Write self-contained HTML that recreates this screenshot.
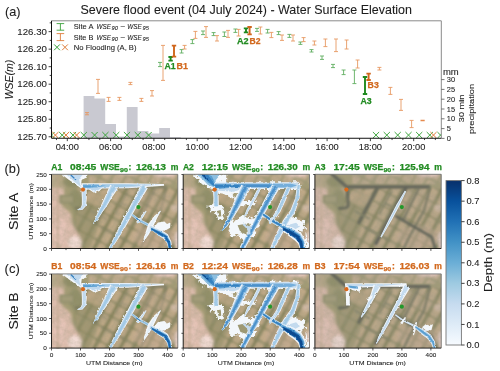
<!DOCTYPE html>
<html><head><meta charset="utf-8"><title>Severe flood event</title>
<style>html,body{margin:0;padding:0;background:#fff;}svg{display:block;}text{font-family:'Liberation Sans', sans-serif;}</style>
</head><body>
<svg width="500" height="371" viewBox="0 0 500 371" font-family="'Liberation Sans', sans-serif">
<filter id="np" x="0" y="0" width="500" height="371" filterUnits="userSpaceOnUse"><feOffset dx="0" dy="0"/></filter>
<g filter="url(#np)">
<rect x="0" y="0" width="500" height="371" fill="#fff"/>
<path d="M83.6 138.25V96H94.40V98.6H105.20V124H116.00V136.4H126.80V107H137.60V131H148.40V133.4H159.20V128H170.00V137.2H180.80V138.25Z" fill="#c9c9d1"/>
<clipPath id="cc"><rect x="51.5" y="20.8" width="389.8" height="117.95"/></clipPath>
<g clip-path="url(#cc)">
<path d="M48.40 132.00L54.60 138.20M48.40 138.20L54.60 132.00" stroke="#3fa53f" stroke-width="1.0" fill="none"/>
<path d="M59.10 132.00L65.30 138.20M59.10 138.20L65.30 132.00" stroke="#3fa53f" stroke-width="1.0" fill="none"/>
<path d="M69.90 132.00L76.10 138.20M69.90 138.20L76.10 132.00" stroke="#3fa53f" stroke-width="1.0" fill="none"/>
<path d="M80.70 132.00L86.90 138.20M80.70 138.20L86.90 132.00" stroke="#3fa53f" stroke-width="1.0" fill="none"/>
<path d="M91.50 132.00L97.70 138.20M91.50 138.20L97.70 132.00" stroke="#3fa53f" stroke-width="1.0" fill="none"/>
<path d="M102.30 132.00L108.50 138.20M102.30 138.20L108.50 132.00" stroke="#3fa53f" stroke-width="1.0" fill="none"/>
<path d="M113.10 132.00L119.30 138.20M113.10 138.20L119.30 132.00" stroke="#3fa53f" stroke-width="1.0" fill="none"/>
<path d="M123.90 132.00L130.10 138.20M123.90 138.20L130.10 132.00" stroke="#3fa53f" stroke-width="1.0" fill="none"/>
<path d="M134.70 132.00L140.90 138.20M134.70 138.20L140.90 132.00" stroke="#3fa53f" stroke-width="1.0" fill="none"/>
<path d="M145.50 132.00L151.70 138.20M145.50 138.20L151.70 132.00" stroke="#3fa53f" stroke-width="1.0" fill="none"/>
<path d="M372.90 132.00L379.10 138.20M372.90 138.20L379.10 132.00" stroke="#3fa53f" stroke-width="1.0" fill="none"/>
<path d="M383.70 132.00L389.90 138.20M383.70 138.20L389.90 132.00" stroke="#3fa53f" stroke-width="1.0" fill="none"/>
<path d="M394.60 132.00L400.80 138.20M394.60 138.20L400.80 132.00" stroke="#3fa53f" stroke-width="1.0" fill="none"/>
<path d="M405.40 132.00L411.60 138.20M405.40 138.20L411.60 132.00" stroke="#3fa53f" stroke-width="1.0" fill="none"/>
<path d="M416.10 132.00L422.30 138.20M416.10 138.20L422.30 132.00" stroke="#3fa53f" stroke-width="1.0" fill="none"/>
<path d="M426.70 132.00L432.90 138.20M426.70 138.20L432.90 132.00" stroke="#3fa53f" stroke-width="1.0" fill="none"/>
<path d="M437.40 132.00L443.60 138.20M437.40 138.20L443.60 132.00" stroke="#3fa53f" stroke-width="1.0" fill="none"/>
<path d="M52.30 132.00L58.50 138.20M52.30 138.20L58.50 132.00" stroke="#e07a35" stroke-width="1.0" fill="none"/>
<path d="M62.90 132.00L69.10 138.20M62.90 138.20L69.10 132.00" stroke="#e07a35" stroke-width="1.0" fill="none"/>
<path d="M73.50 132.00L79.70 138.20M73.50 138.20L79.70 132.00" stroke="#e07a35" stroke-width="1.0" fill="none"/>
<path d="M430.40 132.00L436.60 138.20M430.40 138.20L436.60 132.00" stroke="#e07a35" stroke-width="1.0" fill="none"/>
</g>
<path d="M160 62.4V66.6M158.0 62.4H162.0M158.0 66.6H162.0" stroke="#60ae60" stroke-width="0.9" fill="none"/>
<path d="M181.6 49.6V53M179.6 49.6H183.6M179.6 53H183.6" stroke="#60ae60" stroke-width="0.9" fill="none"/>
<path d="M192.4 39.6V43.6M190.4 39.6H194.4M190.4 43.6H194.4" stroke="#60ae60" stroke-width="0.9" fill="none"/>
<path d="M203 31V34.6M201.0 31H205.0M201.0 34.6H205.0" stroke="#60ae60" stroke-width="0.9" fill="none"/>
<path d="M213.6 32.6V35.6M211.6 32.6H215.6M211.6 35.6H215.6" stroke="#60ae60" stroke-width="0.9" fill="none"/>
<path d="M224.4 32V36.5M222.4 32H226.4M222.4 36.5H226.4" stroke="#60ae60" stroke-width="0.9" fill="none"/>
<path d="M235.4 29V32.4M233.4 29H237.4M233.4 32.4H237.4" stroke="#60ae60" stroke-width="0.9" fill="none"/>
<path d="M257 28.4V31.4M255.0 28.4H259.0M255.0 31.4H259.0" stroke="#60ae60" stroke-width="0.9" fill="none"/>
<path d="M267.6 29.4V33M265.6 29.4H269.6M265.6 33H269.6" stroke="#60ae60" stroke-width="0.9" fill="none"/>
<path d="M278.6 31.6V34.6M276.6 31.6H280.6M276.6 34.6H280.6" stroke="#60ae60" stroke-width="0.9" fill="none"/>
<path d="M289.4 34.4V37.4M287.4 34.4H291.4M287.4 37.4H291.4" stroke="#60ae60" stroke-width="0.9" fill="none"/>
<path d="M300.4 42V44.4M298.4 42H302.4M298.4 44.4H302.4" stroke="#60ae60" stroke-width="0.9" fill="none"/>
<path d="M311.5 49.6V52M309.5 49.6H313.5M309.5 52H313.5" stroke="#60ae60" stroke-width="0.9" fill="none"/>
<path d="M322 56V59.4M320.0 56H324.0M320.0 59.4H324.0" stroke="#60ae60" stroke-width="0.9" fill="none"/>
<path d="M333 64.4V67.6M331.0 64.4H335.0M331.0 67.6H335.0" stroke="#60ae60" stroke-width="0.9" fill="none"/>
<path d="M343.6 70V74.6M341.6 70H345.6M341.6 74.6H345.6" stroke="#60ae60" stroke-width="0.9" fill="none"/>
<path d="M354.4 70V83.6M352.4 70H356.4M352.4 83.6H356.4" stroke="#60ae60" stroke-width="0.9" fill="none"/>
<path d="M87 112.6V114.8M85.0 112.6H89.0M85.0 114.8H89.0" stroke="#e69862" stroke-width="0.9" fill="none"/>
<path d="M98 79.4V93.4M96.0 79.4H100.0M96.0 93.4H100.0" stroke="#e69862" stroke-width="0.9" fill="none"/>
<path d="M108.6 97.4V101.4M106.6 97.4H110.6M106.6 101.4H110.6" stroke="#e69862" stroke-width="0.9" fill="none"/>
<path d="M119.4 97.4V100.4M117.4 97.4H121.4M117.4 100.4H121.4" stroke="#e69862" stroke-width="0.9" fill="none"/>
<path d="M130.4 82.4V84.6M128.4 82.4H132.4M128.4 84.6H132.4" stroke="#e69862" stroke-width="0.9" fill="none"/>
<path d="M141.4 98.4V101.4M139.4 98.4H143.4M139.4 101.4H143.4" stroke="#e69862" stroke-width="0.9" fill="none"/>
<path d="M152 90.6V96M150.0 90.6H154.0M150.0 96H154.0" stroke="#e69862" stroke-width="0.9" fill="none"/>
<path d="M163 45.4V80.4M161.0 45.4H165.0M161.0 80.4H165.0" stroke="#e69862" stroke-width="0.9" fill="none"/>
<path d="M184.6 45.4V49M182.6 45.4H186.6M182.6 49H186.6" stroke="#e69862" stroke-width="0.9" fill="none"/>
<path d="M195.4 31.4V38.4M193.4 31.4H197.4M193.4 38.4H197.4" stroke="#e69862" stroke-width="0.9" fill="none"/>
<path d="M206 26.6V37.4M204.0 26.6H208.0M204.0 37.4H208.0" stroke="#e69862" stroke-width="0.9" fill="none"/>
<path d="M217 35.6V41M215.0 35.6H219.0M215.0 41H219.0" stroke="#e69862" stroke-width="0.9" fill="none"/>
<path d="M228 30.4V37.4M226.0 30.4H230.0M226.0 37.4H230.0" stroke="#e69862" stroke-width="0.9" fill="none"/>
<path d="M238.6 29.4V36M236.6 29.4H240.6M236.6 36H240.6" stroke="#e69862" stroke-width="0.9" fill="none"/>
<path d="M260.4 27V34M258.4 27H262.4M258.4 34H262.4" stroke="#e69862" stroke-width="0.9" fill="none"/>
<path d="M271.4 32.4V37.6M269.4 32.4H273.4M269.4 37.6H273.4" stroke="#e69862" stroke-width="0.9" fill="none"/>
<path d="M282 35V40.4M280.0 35H284.0M280.0 40.4H284.0" stroke="#e69862" stroke-width="0.9" fill="none"/>
<path d="M293 35V41M291.0 35H295.0M291.0 41H295.0" stroke="#e69862" stroke-width="0.9" fill="none"/>
<path d="M303.6 37.6V41.6M301.6 37.6H305.6M301.6 41.6H305.6" stroke="#e69862" stroke-width="0.9" fill="none"/>
<path d="M314.4 41V45M312.4 41H316.4M312.4 45H316.4" stroke="#e69862" stroke-width="0.9" fill="none"/>
<path d="M325.4 39V46.6M323.4 39H327.4M323.4 46.6H327.4" stroke="#e69862" stroke-width="0.9" fill="none"/>
<path d="M336 39V51.6M334.0 39H338.0M334.0 51.6H338.0" stroke="#e69862" stroke-width="0.9" fill="none"/>
<path d="M346.6 40V49M344.6 40H348.6M344.6 49H348.6" stroke="#e69862" stroke-width="0.9" fill="none"/>
<path d="M357.6 60V68M355.6 60H359.6M355.6 68H359.6" stroke="#e69862" stroke-width="0.9" fill="none"/>
<path d="M379.4 67.4V70M377.4 67.4H381.4M377.4 70H381.4" stroke="#e69862" stroke-width="0.9" fill="none"/>
<path d="M390.4 87.4V94.4M388.4 87.4H392.4M388.4 94.4H392.4" stroke="#e69862" stroke-width="0.9" fill="none"/>
<path d="M401 99.4V110.4M399.0 99.4H403.0M399.0 110.4H403.0" stroke="#e69862" stroke-width="0.9" fill="none"/>
<path d="M411.6 120.4V127.6M409.6 120.4H413.6M409.6 127.6H413.6" stroke="#e69862" stroke-width="0.9" fill="none"/>
<path d="M420.5 120.5H424.7" stroke="#e58a4e" stroke-width="1.5" fill="none"/>
<path d="M170.6 57V60.6M168.4 57H172.79999999999998M168.4 60.6H172.79999999999998" stroke="#1f8a1f" stroke-width="1.9" fill="none"/>
<path d="M246 28.4V32.4M243.8 28.4H248.2M243.8 32.4H248.2" stroke="#1f8a1f" stroke-width="1.9" fill="none"/>
<path d="M365 77V94M362.8 77H367.2M362.8 94H367.2" stroke="#1f8a1f" stroke-width="1.9" fill="none"/>
<path d="M174 45.6V56.6M171.8 45.6H176.2M171.8 56.6H176.2" stroke="#d0661c" stroke-width="1.9" fill="none"/>
<path d="M249.6 27V34.4M247.4 27H251.79999999999998M247.4 34.4H251.79999999999998" stroke="#d0661c" stroke-width="1.9" fill="none"/>
<path d="M368.6 73.6V80M366.40000000000003 73.6H370.8M366.40000000000003 80H370.8" stroke="#d0661c" stroke-width="1.9" fill="none"/>
<text x="164.4" y="68.6" font-size="8.6" fill="#228B22" font-weight="bold" stroke="#228B22" stroke-width="0.25" textLength="11.2" lengthAdjust="spacingAndGlyphs">A1</text>
<text x="176.6" y="68.6" font-size="8.6" fill="#D2691E" font-weight="bold" stroke="#D2691E" stroke-width="0.25" textLength="11.4" lengthAdjust="spacingAndGlyphs">B1</text>
<text x="237" y="44.2" font-size="8.6" fill="#228B22" font-weight="bold" stroke="#228B22" stroke-width="0.25" textLength="11.6" lengthAdjust="spacingAndGlyphs">A2</text>
<text x="249.6" y="44.2" font-size="8.6" fill="#D2691E" font-weight="bold" stroke="#D2691E" stroke-width="0.25" textLength="11" lengthAdjust="spacingAndGlyphs">B2</text>
<text x="367.6" y="87.8" font-size="8.6" fill="#D2691E" font-weight="bold" stroke="#D2691E" stroke-width="0.25" textLength="11.2" lengthAdjust="spacingAndGlyphs">B3</text>
<text x="360.4" y="104.2" font-size="8.6" fill="#228B22" font-weight="bold" stroke="#228B22" stroke-width="0.25" textLength="11.2" lengthAdjust="spacingAndGlyphs">A3</text>
<path d="M51.5 20.8H441.3V138.25" stroke="#8a8a8a" stroke-width="1" fill="none"/>
<path d="M51.5 20.8V138.25H441.3" stroke="#111" stroke-width="1" fill="none"/>
<path d="M51.5 136.75h-2.9M51.5 119.23h-2.9M51.5 101.71h-2.9M51.5 84.19h-2.9M51.5 66.67h-2.9M51.5 49.15h-2.9M51.5 31.63h-2.9M51.5 127.99h-1.8M51.5 110.47h-1.8M51.5 92.95h-1.8M51.5 75.43h-1.8M51.5 57.91h-1.8M51.5 40.39h-1.8M51.5 22.87h-1.8M67.30 138.25v2.9M110.60 138.25v2.9M153.90 138.25v2.9M197.20 138.25v2.9M240.50 138.25v2.9M283.80 138.25v2.9M327.10 138.25v2.9M370.40 138.25v2.9M413.70 138.25v2.9M56.47 138.25v1.8M78.12 138.25v1.8M88.95 138.25v1.8M99.77 138.25v1.8M121.42 138.25v1.8M132.25 138.25v1.8M143.07 138.25v1.8M164.72 138.25v1.8M175.55 138.25v1.8M186.38 138.25v1.8M208.02 138.25v1.8M218.85 138.25v1.8M229.68 138.25v1.8M251.32 138.25v1.8M262.15 138.25v1.8M272.97 138.25v1.8M294.62 138.25v1.8M305.45 138.25v1.8M316.27 138.25v1.8M337.93 138.25v1.8M348.75 138.25v1.8M359.57 138.25v1.8M381.22 138.25v1.8M392.05 138.25v1.8M402.88 138.25v1.8M424.52 138.25v1.8M435.35 138.25v1.8" stroke="#111" stroke-width="0.8" fill="none"/>
<path d="M441.3 138.40h3.2M441.3 128.60h3.2M441.3 118.80h3.2M441.3 109.00h3.2M441.3 99.20h3.2M441.3 89.40h3.2M441.3 79.60h3.2" stroke="#555" stroke-width="0.8" fill="none"/>
<text x="46.9" y="139.75" font-size="8.4" fill="#1c1c1c" text-anchor="end" stroke="#1c1c1c" stroke-width="0.08" textLength="29.6" lengthAdjust="spacingAndGlyphs">125.70</text>
<text x="46.9" y="122.23" font-size="8.4" fill="#1c1c1c" text-anchor="end" stroke="#1c1c1c" stroke-width="0.08" textLength="29.6" lengthAdjust="spacingAndGlyphs">125.80</text>
<text x="46.9" y="104.71" font-size="8.4" fill="#1c1c1c" text-anchor="end" stroke="#1c1c1c" stroke-width="0.08" textLength="29.6" lengthAdjust="spacingAndGlyphs">125.90</text>
<text x="46.9" y="87.19" font-size="8.4" fill="#1c1c1c" text-anchor="end" stroke="#1c1c1c" stroke-width="0.08" textLength="29.6" lengthAdjust="spacingAndGlyphs">126.00</text>
<text x="46.9" y="69.67" font-size="8.4" fill="#1c1c1c" text-anchor="end" stroke="#1c1c1c" stroke-width="0.08" textLength="29.6" lengthAdjust="spacingAndGlyphs">126.10</text>
<text x="46.9" y="52.15" font-size="8.4" fill="#1c1c1c" text-anchor="end" stroke="#1c1c1c" stroke-width="0.08" textLength="29.6" lengthAdjust="spacingAndGlyphs">126.20</text>
<text x="46.9" y="34.63" font-size="8.4" fill="#1c1c1c" text-anchor="end" stroke="#1c1c1c" stroke-width="0.08" textLength="29.6" lengthAdjust="spacingAndGlyphs">126.30</text>
<text x="67.3" y="150.4" font-size="8.3" fill="#1c1c1c" text-anchor="middle" stroke="#1c1c1c" stroke-width="0.08" textLength="23.2" lengthAdjust="spacingAndGlyphs">04:00</text>
<text x="110.6" y="150.4" font-size="8.3" fill="#1c1c1c" text-anchor="middle" stroke="#1c1c1c" stroke-width="0.08" textLength="23.2" lengthAdjust="spacingAndGlyphs">06:00</text>
<text x="153.9" y="150.4" font-size="8.3" fill="#1c1c1c" text-anchor="middle" stroke="#1c1c1c" stroke-width="0.08" textLength="23.2" lengthAdjust="spacingAndGlyphs">08:00</text>
<text x="197.2" y="150.4" font-size="8.3" fill="#1c1c1c" text-anchor="middle" stroke="#1c1c1c" stroke-width="0.08" textLength="23.2" lengthAdjust="spacingAndGlyphs">10:00</text>
<text x="240.5" y="150.4" font-size="8.3" fill="#1c1c1c" text-anchor="middle" stroke="#1c1c1c" stroke-width="0.08" textLength="23.2" lengthAdjust="spacingAndGlyphs">12:00</text>
<text x="283.8" y="150.4" font-size="8.3" fill="#1c1c1c" text-anchor="middle" stroke="#1c1c1c" stroke-width="0.08" textLength="23.2" lengthAdjust="spacingAndGlyphs">14:00</text>
<text x="327.1" y="150.4" font-size="8.3" fill="#1c1c1c" text-anchor="middle" stroke="#1c1c1c" stroke-width="0.08" textLength="23.2" lengthAdjust="spacingAndGlyphs">16:00</text>
<text x="370.4" y="150.4" font-size="8.3" fill="#1c1c1c" text-anchor="middle" stroke="#1c1c1c" stroke-width="0.08" textLength="23.2" lengthAdjust="spacingAndGlyphs">18:00</text>
<text x="413.7" y="150.4" font-size="8.3" fill="#1c1c1c" text-anchor="middle" stroke="#1c1c1c" stroke-width="0.08" textLength="23.2" lengthAdjust="spacingAndGlyphs">20:00</text>
<text x="446.8" y="141.0" font-size="7.0" fill="#1c1c1c" stroke="#1c1c1c" stroke-width="0.08" textLength="4.2" lengthAdjust="spacingAndGlyphs">0</text>
<text x="446.8" y="131.2" font-size="7.0" fill="#1c1c1c" stroke="#1c1c1c" stroke-width="0.08" textLength="4.2" lengthAdjust="spacingAndGlyphs">5</text>
<text x="446.8" y="121.4" font-size="7.0" fill="#1c1c1c" stroke="#1c1c1c" stroke-width="0.08" textLength="8.3" lengthAdjust="spacingAndGlyphs">10</text>
<text x="446.8" y="111.6" font-size="7.0" fill="#1c1c1c" stroke="#1c1c1c" stroke-width="0.08" textLength="8.3" lengthAdjust="spacingAndGlyphs">15</text>
<text x="446.8" y="101.8" font-size="7.0" fill="#1c1c1c" stroke="#1c1c1c" stroke-width="0.08" textLength="8.3" lengthAdjust="spacingAndGlyphs">20</text>
<text x="446.8" y="92.0" font-size="7.0" fill="#1c1c1c" stroke="#1c1c1c" stroke-width="0.08" textLength="8.3" lengthAdjust="spacingAndGlyphs">25</text>
<text x="446.8" y="82.2" font-size="7.0" fill="#1c1c1c" stroke="#1c1c1c" stroke-width="0.08" textLength="8.3" lengthAdjust="spacingAndGlyphs">30</text>
<text x="442.9" y="74.8" font-size="8.2" fill="#1c1c1c" stroke="#1c1c1c" stroke-width="0.08" textLength="15.8" lengthAdjust="spacingAndGlyphs">mm</text>
<text x="464" y="108.4" font-size="8.1" fill="#1c1c1c" text-anchor="middle" stroke="#1c1c1c" stroke-width="0.08" textLength="27.6" lengthAdjust="spacingAndGlyphs" transform="rotate(-90 464 108.4)">30 min</text>
<text x="474" y="108.9" font-size="8.1" fill="#1c1c1c" text-anchor="middle" stroke="#1c1c1c" stroke-width="0.08" textLength="50.2" lengthAdjust="spacingAndGlyphs" transform="rotate(-90 474 108.9)">precipitation</text>
<text x="13.2" y="79.5" font-size="10" fill="#1c1c1c" text-anchor="middle" stroke="#1c1c1c" stroke-width="0.08" font-style="italic" textLength="39.5" lengthAdjust="spacingAndGlyphs" transform="rotate(-90 13.2 79.5)">WSE(m)</text>
<text x="80.5" y="13.8" font-size="11.9" fill="#1c1c1c" stroke="#1c1c1c" stroke-width="0.08" textLength="331.5" lengthAdjust="spacingAndGlyphs">Severe flood event (04 July 2024) - Water Surface Elevation</text>
<text x="5" y="15.5" font-size="12.4" fill="#1c1c1c" stroke="#1c1c1c" stroke-width="0.08" textLength="15.6" lengthAdjust="spacingAndGlyphs">(a)</text>
<text x="4.6" y="173.4" font-size="12.4" fill="#1c1c1c" stroke="#1c1c1c" stroke-width="0.08" textLength="15.6" lengthAdjust="spacingAndGlyphs">(b)</text>
<text x="4.6" y="272.8" font-size="12.4" fill="#1c1c1c" stroke="#1c1c1c" stroke-width="0.08" textLength="15.2" lengthAdjust="spacingAndGlyphs">(c)</text>
<path d="M60.4 23.6V30.2M56.6 23.6H64.2M56.6 30.2H64.2" stroke="#3aa03a" stroke-width="0.9" fill="none"/>
<path d="M60.4 33.6V40.6M56.6 33.6H64.2M56.6 40.6H64.2" stroke="#de7d3a" stroke-width="0.9" fill="none"/>
<path d="M54.10 44.40L59.90 50.20M54.10 50.20L59.90 44.40" stroke="#3aa03a" stroke-width="1.0" fill="none"/>
<path d="M62.10 44.40L67.90 50.20M62.10 50.20L67.90 44.40" stroke="#de7d3a" stroke-width="1.0" fill="none"/>
<text x="73.8" y="29.1" font-size="7.5" fill="#1c1c1c" stroke="#1c1c1c" stroke-width="0.08" textLength="19.6" lengthAdjust="spacingAndGlyphs">Site A</text>
<text x="96.5" y="29.1" font-size="7.6" fill="#1c1c1c" stroke="#1c1c1c" stroke-width="0.08" font-style="italic" textLength="14.4" lengthAdjust="spacingAndGlyphs">WSE</text>
<text x="111.6" y="30.200000000000003" font-size="5.4" fill="#1c1c1c" stroke="#1c1c1c" stroke-width="0.08" font-style="italic" textLength="6.3" lengthAdjust="spacingAndGlyphs">90</text>
<text x="120.2" y="29.1" font-size="7.5" fill="#1c1c1c" stroke="#1c1c1c" stroke-width="0.08" textLength="5.0" lengthAdjust="spacingAndGlyphs">−</text>
<text x="127.3" y="29.1" font-size="7.6" fill="#1c1c1c" stroke="#1c1c1c" stroke-width="0.08" font-style="italic" textLength="14.5" lengthAdjust="spacingAndGlyphs">WSE</text>
<text x="142.5" y="30.200000000000003" font-size="5.4" fill="#1c1c1c" stroke="#1c1c1c" stroke-width="0.08" font-style="italic" textLength="6.3" lengthAdjust="spacingAndGlyphs">95</text>
<text x="73.8" y="39.9" font-size="7.5" fill="#1c1c1c" stroke="#1c1c1c" stroke-width="0.08" textLength="19.6" lengthAdjust="spacingAndGlyphs">Site B</text>
<text x="96.5" y="39.9" font-size="7.6" fill="#1c1c1c" stroke="#1c1c1c" stroke-width="0.08" font-style="italic" textLength="14.4" lengthAdjust="spacingAndGlyphs">WSE</text>
<text x="111.6" y="41.0" font-size="5.4" fill="#1c1c1c" stroke="#1c1c1c" stroke-width="0.08" font-style="italic" textLength="6.3" lengthAdjust="spacingAndGlyphs">90</text>
<text x="120.2" y="39.9" font-size="7.5" fill="#1c1c1c" stroke="#1c1c1c" stroke-width="0.08" textLength="5.0" lengthAdjust="spacingAndGlyphs">−</text>
<text x="127.3" y="39.9" font-size="7.6" fill="#1c1c1c" stroke="#1c1c1c" stroke-width="0.08" font-style="italic" textLength="14.5" lengthAdjust="spacingAndGlyphs">WSE</text>
<text x="142.5" y="41.0" font-size="5.4" fill="#1c1c1c" stroke="#1c1c1c" stroke-width="0.08" font-style="italic" textLength="6.3" lengthAdjust="spacingAndGlyphs">95</text>
<text x="73.8" y="50.1" font-size="7.5" fill="#1c1c1c" stroke="#1c1c1c" stroke-width="0.08" textLength="62.7" lengthAdjust="spacingAndGlyphs">No Flooding (A, B)</text>
<defs><filter id="bl" x="-5%" y="-5%" width="110%" height="110%"><feGaussianBlur stdDeviation="7"/></filter>
<filter id="bl3" x="-5%" y="-5%" width="110%" height="110%"><feGaussianBlur stdDeviation="4"/></filter>
<filter id="bl2" x="-5%" y="-5%" width="110%" height="110%"><feGaussianBlur stdDeviation="3.2"/></filter>
<filter id="bl1" x="-5%" y="-5%" width="110%" height="110%"><feGaussianBlur stdDeviation="1.1"/></filter>
<linearGradient id="cb" x1="0" y1="1" x2="0" y2="0">
<stop offset="0" stop-color="#f7fbff"/><stop offset="0.125" stop-color="#deebf7"/><stop offset="0.25" stop-color="#c6dbef"/>
<stop offset="0.375" stop-color="#9ecae1"/><stop offset="0.5" stop-color="#6baed6"/><stop offset="0.625" stop-color="#4292c6"/>
<stop offset="0.75" stop-color="#2171b5"/><stop offset="0.875" stop-color="#08519c"/><stop offset="1" stop-color="#08306b"/></linearGradient>
<pattern id="fld" patternUnits="userSpaceOnUse" width="44" height="52" patternTransform="translate(247 60) rotate(28.6)">
<rect width="44" height="52" fill="#88855f"/><rect x="7" y="3" width="30" height="46" rx="6" fill="#bfa987"/></pattern>
<pattern id="fld2" patternUnits="userSpaceOnUse" width="44" height="60" patternTransform="translate(150 0) rotate(28.6)">
<rect width="44" height="60" fill="#a09a76"/><rect x="5" y="5" width="34" height="50" rx="6" fill="#c0ab8e"/></pattern>
<filter id="nz" x="0" y="0" width="100%" height="100%"><feTurbulence type="fractalNoise" baseFrequency="0.045" numOctaves="3" seed="7"/><feColorMatrix type="matrix" values="0 0 0 0 0.32  0 0 0 0 0.31  0 0 0 0 0.2  1.6 0 0 0 -0.55"/></filter>
<filter id="rg2" x="-5%" y="-5%" width="110%" height="110%"><feTurbulence type="fractalNoise" baseFrequency="0.07" numOctaves="3" seed="11" result="n"/><feDisplacementMap in="SourceGraphic" in2="n" scale="26" xChannelSelector="R" yChannelSelector="G"/></filter>
<filter id="rg" x="-5%" y="-5%" width="110%" height="110%"><feTurbulence type="fractalNoise" baseFrequency="0.09" numOctaves="2" seed="3" result="n"/><feDisplacementMap in="SourceGraphic" in2="n" scale="9" xChannelSelector="R" yChannelSelector="G"/></filter>
<g id="terr">
<rect x="0" y="0" width="500" height="300" fill="#a49c74"/>
<g filter="url(#bl3)">
<path d="M100 62H500V300H100Z" fill="url(#fld)"/>
<path d="M150 6H500V48H150Z" fill="url(#fld2)"/>
</g>
<g filter="url(#bl)">
<path d="M90 130L250 70L190 200L150 300H90Z" fill="#8f8c65" opacity="0.6"/>
<ellipse cx="185" cy="100" rx="42" ry="30" fill="#bda684" opacity="0.8"/>
<path d="M0 0H75L60 62H0Z" fill="#b3a684"/>
<path d="M0 62H52L56 90L40 100L46 130L80 160L86 200L116 250L122 300H0Z" fill="#dcbcac"/>
<path d="M0 0H26V60H0Z" fill="#b9aa8c"/>
<ellipse cx="96" cy="272" rx="26" ry="26" fill="#f1dad3"/>
<ellipse cx="40" cy="230" rx="26" ry="50" fill="#e6c4b8"/>
<ellipse cx="300" cy="4" rx="40" ry="9" fill="#ddc0b0"/>
<ellipse cx="440" cy="8" rx="45" ry="13" fill="#e8c9c0"/>
<ellipse cx="494" cy="262" rx="16" ry="36" fill="#ead0c9"/>
<ellipse cx="482" cy="138" rx="18" ry="14" fill="#d3bba7"/>
<ellipse cx="85" cy="38" rx="36" ry="22" fill="#8f8d66"/>
<ellipse cx="98" cy="105" rx="26" ry="40" fill="#918f68"/>
<ellipse cx="400" cy="250" rx="80" ry="45" fill="#cbae97" opacity="0.5"/>
<ellipse cx="400" cy="110" rx="70" ry="40" fill="#c4ac92" opacity="0.25"/>
</g>
<rect x="0" y="0" width="500" height="300" filter="url(#nz)" opacity="0.4"/>
<g filter="url(#bl2)" fill="none" stroke-linecap="round" stroke-linejoin="round">
<path d="M30 10V300" stroke="#bba68b" stroke-width="6" opacity="0.8"/>
<path d="M40 92H90V118H40Z" stroke="#918f6e" stroke-width="6" fill="#a39b78"/>
</g>
</g>
<g id="dit" filter="url(#bl2)" fill="none" stroke-linecap="round" stroke-linejoin="round">
<path d="M70 8L128 58H445" stroke="#62645a" stroke-width="12"/>
<path d="M130 58L134 130Q134 140 100 140" stroke="#686a5c" stroke-width="11"/>
<path d="M247 60L175 195" stroke="#66685b" stroke-width="12"/>
<path d="M357 60L240 275" stroke="#62645a" stroke-width="13"/>
<path d="M405 65L345 185" stroke="#7a7a66" stroke-width="9"/>
<path d="M448 62L425 150L372 243L348 292" stroke="#7c7c66" stroke-width="9"/>
<path d="M318 170L455 250L468 292" stroke="#64665a" stroke-width="11"/>
<path d="M300 75L255 160" stroke="#85846c" stroke-width="7"/>
<path d="M200 215L290 262M160 150L215 180M275 120L330 150" stroke="#85846c" stroke-width="7"/>
</g>
<g id="f1" filter="url(#rg)"><path d="M45 9H145L142 22L122 30L120 48L132 56L120 64L95 46L72 30Z" fill="#f3f7fb"/><path d="M62 9H128L112 28L116 50L122 60L96 40Z" fill="#c3daee"/><path d="M120 44H300L438 47L439 53L300 63L200 64L190 74L172 82L150 68L128 70Z" fill="#f3f7fb"/><path d="M126 47H300L424 49L300 60H200L186 70L170 76L154 66L130 68Z" fill="#bdd7ed"/><path d="M128 49H270L350 52L270 58H160L132 64Z" fill="#a3cae6"/><path d="M126 50H180L215 53L180 60H135L128 65Z" fill="#6fabd8"/><path d="M128 53H155L175 55L155 60H132Z" fill="#5a9fd1"/><path d="M121.0 62.3L122.5 100.0L122.7 126.0L118.8 136.5L105.6 144.6L106.4 147.4L125.2 145.5L139.3 130.0L141.5 100.0L141.0 61.7Z" fill="#f3f7fb"/><path d="M124.4 62.2L125.7 100.0L125.5 126.7L119.9 138.1L105.7 145.1L106.3 146.9L124.1 143.9L136.5 129.3L138.3 100.0L137.6 61.8Z" fill="#c3daee"/><path d="M231.6 49.9L216.5 83.8L200.4 119.7L187.6 145.8L175.2 175.3L166.1 198.5L167.9 199.5L184.8 180.7L202.4 154.2L219.6 130.3L239.5 96.2L260.4 66.1Z" fill="#f3f7fb"/><path d="M235.4 52.0L219.5 85.4L202.9 121.1L189.5 146.9L176.5 176.0L166.4 198.6L167.6 199.4L183.5 180.0L200.5 153.1L217.1 128.9L236.5 94.6L256.6 64.0Z" fill="#bdd7ed"/><path d="M240.0 54.6L223.2 87.4L206.0 122.8L191.9 148.2L178.0 176.9L166.6 198.8L167.4 199.2L182.0 179.1L198.1 151.8L214.0 127.2L232.8 92.6L252.0 61.4Z" fill="#a3cae6"/><path d="M349.9 48.7L322.1 103.9L300.9 144.5L271.4 199.7L248.2 245.6L226.2 291.3L235.8 296.7L263.8 254.4L290.6 210.3L321.1 155.5L343.9 116.1L376.1 63.3Z" fill="#f3f7fb"/><path d="M353.3 50.6L324.9 105.5L303.5 145.9L273.9 201.1L250.2 246.7L227.5 292.0L234.5 296.0L261.8 253.3L288.1 208.9L318.5 154.1L341.1 114.5L372.7 61.4Z" fill="#bdd7ed"/><path d="M357.5 52.9L328.4 107.5L306.8 147.7L277.0 202.8L252.7 248.1L229.0 292.9L233.0 295.1L259.3 251.9L285.0 207.2L315.2 152.3L337.6 112.5L368.5 59.1Z" fill="#a3cae6"/><path d="M312.5 167.2L339.3 189.2L379.3 210.8L394.8 221.1L401.2 210.9L384.7 201.2L344.7 180.8L317.5 160.8Z" fill="#c3daee"/><path d="M313.8 165.6L340.7 187.1L380.7 208.4L396.4 218.5L399.6 213.5L383.3 203.6L343.3 182.9L316.2 162.4Z" fill="#8dbfe0"/><path d="M340.8 199.5L359.0 173.0L371.2 150.9L368.8 149.1L351.0 167.0L331.2 192.5Z" fill="#f3f7fb"/><path d="M338.4 197.8L357.0 171.5L370.6 150.4L369.4 149.6L353.0 168.5L333.6 194.2Z" fill="#c3daee"/><path d="M359.3 268.7L379.3 241.0L396.4 210.8L411.2 179.2L426.2 150.9L423.8 149.1L398.8 170.8L377.6 201.2L366.7 235.0L356.7 267.3Z" fill="#f3f7fb"/><path d="M358.5 268.3L375.5 239.2L390.7 207.9L407.5 176.7L425.5 150.4L424.5 149.6L402.5 173.3L383.3 204.1L370.5 236.8L357.5 267.7Z" fill="#e3eef8"/><path d="M400 212L415 194L440 190L450 200L463 194L462 214L442 226L420 224Z" fill="#f3f7fb"/><path d="M381.8 215.1L413.6 242.1L436.5 256.5L449.6 273.2L456.1 297.3L469.9 294.7L466.4 266.8L453.5 239.5L426.4 221.9L388.2 204.9Z" fill="#f3f7fb"/><path d="M382.6 213.8L415.2 239.6L438.6 254.4L451.7 272.4L457.8 297.0L468.2 295.0L464.3 267.6L451.4 241.6L424.8 224.4L387.4 206.2Z" fill="#c3daee"/><path d="M386.5 219.6L416.6 241.1L438.2 253.1L451.4 272.2L457.1 296.9L466.9 295.1L462.6 267.8L447.8 242.9L423.4 228.9L389.5 214.4Z" fill="#5a9fd1"/><path d="M386.9 219.0L417.4 239.6L439.4 251.8L452.8 271.7L458.3 296.7L465.7 295.3L461.2 268.3L446.6 244.2L422.6 230.4L389.1 215.0Z" fill="#3581c0"/><path d="M387.3 218.2L418.5 237.7L440.8 250.3L454.5 271.0L459.8 296.4L464.2 295.6L459.5 269.0L445.2 245.7L421.5 232.3L388.7 215.8Z" fill="#1a63aa"/><path d="M80 12L100 31" stroke="#3581c0" stroke-width="5" fill="none"/><path d="M332 178L348 190" stroke="#3581c0" stroke-width="4" fill="none"/></g>
<g id="f2"><g filter="url(#rg2)"><path d="M42 9H172L170 52L150 36L130 40L136 58L118 68L90 58L72 46L66 28Z" fill="#f3f7fb"/><path d="M116 36L200 40H450L454 66H244L238 100L212 106L190 100L160 84L128 78Z" fill="#f3f7fb"/><path d="M102 130L124 124L150 130L164 150L156 186L140 182L132 160L112 150Z" fill="#f3f7fb"/><path d="M188 192L214 178L232 168L292 182L300 200L272 250L236 264L214 240L196 248L176 226Z" fill="#f3f7fb"/><path d="M212 112H286L280 128H210Z" fill="#f3f7fb"/><path d="M392 200L410 180L440 176L452 190L472 184L474 216L446 234L420 232Z" fill="#f3f7fb"/><path d="M476 226L492 294H478Z" fill="#f3f7fb"/></g><g filter="url(#rg)"><path d="M58 9H150L132 30L124 48L126 60L100 50L84 32Z" fill="#8dbfe0"/><path d="M70 9H112L128 40L124 56L100 40Z" fill="#5a9fd1"/><path d="M80 9H100L126 46L122 54L104 38Z" fill="#3581c0"/><path d="M124 42H448L449 63H240L200 76L130 72Z" fill="#c3daee"/><path d="M126 46H420L445 52L420 60H200L130 68Z" fill="#74aedb"/><path d="M126 49H340L340 58H200L130 64Z" fill="#4b90ca"/><path d="M128 51H220L220 58H150L132 62Z" fill="#3581c0"/><path d="M196 84L222 80L226 96L200 98Z" fill="#a8a07c"/><path d="M136 150L150 146L152 170L142 172Z" fill="#9d9873"/><path d="M215 205L262 196L272 214L250 240L226 232Z" fill="#9d9873"/><path d="M120.0 62.3L122.0 100.1L121.0 132.0L143.0 132.0L142.0 99.9L142.0 61.7Z" fill="#f3f7fb"/><path d="M122.9 62.2L124.6 100.1L123.9 132.0L140.1 132.0L139.4 99.9L139.1 61.8Z" fill="#bdd7ed"/><path d="M126.4 62.1L127.8 100.1L127.4 132.0L136.6 132.0L136.2 99.9L135.6 61.9Z" fill="#a3cae6"/><path d="M229.0 49.5L209.8 92.4L192.5 133.7L180.3 164.8L164.1 201.2L153.4 223.8L156.6 226.2L175.9 208.8L199.7 175.2L217.5 146.3L240.2 107.6L263.0 66.5Z" fill="#f3f7fb"/><path d="M232.7 51.4L213.1 94.1L195.2 135.1L182.4 165.9L165.4 202.1L153.8 224.1L156.2 225.9L174.6 207.9L197.6 174.1L214.8 144.9L236.9 105.9L259.3 64.6Z" fill="#c3daee"/><path d="M236.5 53.2L216.5 95.7L198.0 136.5L184.6 167.1L166.7 202.9L154.1 224.3L155.9 225.7L173.3 207.1L195.4 172.9L212.0 143.5L233.5 104.3L255.5 62.8Z" fill="#74aedb"/><path d="M241.2 55.6L220.7 97.9L201.5 138.2L187.3 168.5L168.3 203.9L154.6 224.7L155.4 225.3L171.7 206.1L192.7 171.5L208.5 141.8L229.3 102.1L250.8 60.4Z" fill="#4b90ca"/><path d="M348.0 48.2L319.7 103.2L298.6 143.8L269.5 199.2L245.3 244.8L223.1 289.4L240.9 298.6L264.7 255.2L290.5 210.8L321.4 156.2L344.3 116.8L376.0 63.8Z" fill="#f3f7fb"/><path d="M351.1 49.9L322.4 104.7L301.1 145.1L271.8 200.5L247.4 245.9L225.1 290.4L238.9 297.6L262.6 254.1L288.2 209.5L318.9 154.9L341.6 115.3L372.9 62.1Z" fill="#c3daee"/><path d="M354.2 51.6L325.1 106.2L303.6 146.5L274.1 201.8L249.6 247.1L227.0 291.4L237.0 296.6L260.4 252.9L285.9 208.2L316.4 153.5L338.9 113.8L369.8 60.4Z" fill="#74aedb"/><path d="M358.1 53.8L328.6 108.1L306.8 148.3L277.1 203.4L252.3 248.5L229.5 292.7L234.5 295.3L257.7 251.5L282.9 206.6L313.2 151.7L335.4 111.9L365.9 58.2Z" fill="#4b90ca"/><path d="M294.7 59.2L274.7 97.1L250.6 142.6L238.2 174.1L241.8 175.9L259.4 147.4L285.3 102.9L305.3 64.8Z" fill="#f3f7fb"/><path d="M296.5 60.2L276.5 98.1L252.1 143.4L238.8 174.4L241.2 175.6L257.9 146.6L283.5 101.9L303.5 63.8Z" fill="#c3daee"/><path d="M404.7 56.8L383.8 101.3L364.9 146.2L347.1 176.5L334.8 195.5L341.2 200.5L356.9 183.5L379.1 153.8L400.2 108.7L419.3 63.2Z" fill="#f3f7fb"/><path d="M406.6 57.6L385.9 102.3L366.8 147.2L348.4 177.4L335.7 196.2L340.3 199.8L355.6 182.6L377.2 152.8L398.1 107.7L417.4 62.4Z" fill="#bdd7ed"/><path d="M408.9 58.6L388.5 103.5L369.0 148.4L349.9 178.5L336.7 197.0L339.3 199.0L354.1 181.5L375.0 151.6L395.5 106.5L415.1 61.4Z" fill="#a3cae6"/><path d="M443.0 49.3L437.2 98.3L419.0 145.6L389.7 185.8L362.2 238.0L340.8 290.6L355.2 297.4L381.8 248.0L410.3 198.2L437.0 154.4L452.8 101.7L457.0 50.7Z" fill="#f3f7fb"/><path d="M444.8 49.5L439.2 98.7L421.4 146.7L392.4 187.4L364.7 239.3L342.6 291.5L353.4 296.5L379.3 246.7L407.6 196.6L434.6 153.3L450.8 101.3L455.2 50.5Z" fill="#bdd7ed"/><path d="M447.1 49.7L441.7 99.3L424.2 148.2L395.7 189.4L367.9 240.9L345.0 292.6L351.0 295.4L376.1 245.1L404.3 194.6L431.8 151.8L448.3 100.7L452.9 50.3Z" fill="#a3cae6"/><path d="M234.3 202.5L250.1 217.8L259.1 240.7L264.9 239.3L261.9 210.2L237.7 197.5Z" fill="#c3daee"/><path d="M309.5 167.9L338.0 190.4L378.0 212.9L393.2 223.6L402.8 208.4L386.0 199.1L346.0 177.6L316.5 158.1Z" fill="#f3f7fb"/><path d="M310.2 166.9L338.8 189.1L378.8 211.6L394.2 222.1L401.8 209.9L385.2 200.4L345.2 178.9L315.8 159.1Z" fill="#8dbfe0"/><path d="M311.4 165.2L340.2 186.9L380.2 209.1L395.9 219.4L400.1 212.6L383.8 202.9L343.8 181.1L314.6 160.8Z" fill="#3581c0"/><path d="M342.0 196.0L358.2 172.4L369.2 152.9L366.8 151.1L351.8 167.6L334.0 190.0Z" fill="#f3f7fb"/><path d="M340.7 195.0L357.1 171.6L368.8 152.6L367.2 151.4L352.9 168.4L335.3 191.0Z" fill="#c3daee"/><path d="M405 205L440 195L455 210L430 224Z" fill="#c3daee"/><path d="M378.9 214.9L410.5 245.3L433.9 261.8L448.3 276.0L455.3 298.9L480.7 293.1L475.7 264.0L460.1 234.2L429.5 214.7L387.1 201.1Z" fill="#f3f7fb"/><path d="M379.9 213.2L412.8 241.4L437.2 258.3L451.7 274.5L458.5 298.2L477.5 293.8L472.3 265.5L456.8 237.7L427.2 218.6L386.1 202.8Z" fill="#c3daee"/><path d="M380.8 211.8L414.8 238.4L439.8 255.6L454.4 273.3L461.0 297.6L475.0 294.4L469.6 266.7L454.2 240.4L425.2 221.6L385.2 204.2Z" fill="#5a9fd1"/><path d="M386.0 219.5L415.7 241.3L438.2 255.2L451.5 272.6L457.1 297.1L468.9 294.9L464.5 267.4L449.8 242.8L424.3 226.7L390.0 212.5Z" fill="#1a63aa"/><path d="M386.8 218.1L417.4 238.4L440.5 252.7L454.1 271.6L459.5 296.7L466.5 295.3L461.9 268.4L447.5 245.3L422.6 229.6L389.2 213.9Z" fill="#0c4a8f"/><path d="M78 10L104 32" stroke="#0c4a8f" stroke-width="5" fill="none"/></g></g>
<g id="f3"><path d="M351.4 72.6L319.7 125.2L290.1 182.4L257.8 248.8L262.2 251.2L299.9 187.6L330.3 130.8L356.6 75.4Z" fill="#eef3f9"/><path d="M352.8 73.4L322.6 126.7L292.8 183.8L259.0 249.5L261.0 250.5L297.2 186.2L327.4 129.3L355.2 74.6Z" fill="#bcd7ec"/></g>
<g id="f4" filter="url(#rg)"><path d="M121 45H358L360 59H254L186 62L178 78L152 72L140 66L140 131H126L124 70Z" fill="#f3f7fb"/><path d="M127 48H350L254 57H170L160 68L136 64Z" fill="#c6dcef"/><path d="M134 54L170 58L172 66L140 63Z" fill="#5a9fd1"/><path d="M231.3 49.9L220.9 85.8L206.3 121.6L193.2 149.3L182.3 175.0L185.7 177.0L202.8 154.7L219.7 128.4L239.1 94.2L258.7 62.1Z" fill="#f3f7fb"/><path d="M236.8 52.4L224.6 87.5L209.0 122.9L195.1 150.4L183.0 175.4L185.0 176.6L200.9 153.6L217.0 127.1L235.4 92.5L253.2 59.6Z" fill="#c6dcef"/><path d="M204 104L228 90L226 102L212 116Z" fill="#f3f7fb"/><path d="M347.5 49.7L326.1 103.8L303.4 146.4L274.3 201.9L250.6 247.6L240.7 275.3L243.3 276.7L259.4 252.4L285.7 208.1L316.6 153.6L341.9 112.2L372.5 62.3Z" fill="#f3f7fb"/><path d="M352.5 52.2L329.2 105.5L306.1 147.8L276.6 203.1L252.4 248.6L241.2 275.6L242.8 276.4L257.6 251.4L283.4 206.9L313.9 152.2L338.8 110.5L367.5 59.8Z" fill="#c6dcef"/><path d="M313.5 168.0L340.2 189.0L380.1 209.5L395.4 220.2L400.6 211.8L383.9 202.5L343.8 183.0L316.5 164.0Z" fill="#d5e5f3"/><path d="M342.2 202.8L356.1 177.4L351.9 174.6L333.8 197.2Z" fill="#f3f7fb"/><path d="M386.5 244.3L395.9 216.3L398.4 190.4L395.6 189.6L384.1 213.7L383.5 243.7Z" fill="#f3f7fb"/><path d="M418 214L432 202L446 207L460 202L454 224L436 228Z" fill="#f3f7fb"/><path d="M389.1 216.1L414.2 240.1L437.9 257.1L452.8 275.4L460.2 295.6L471.8 292.4L467.2 268.6L452.1 242.9L425.8 223.9L394.9 207.9Z" fill="#f3f7fb"/><path d="M389.8 215.1L415.6 238.1L439.7 255.3L454.6 274.6L461.7 295.2L470.3 292.8L465.4 269.4L450.3 244.7L424.4 225.9L394.2 208.9Z" fill="#b5d3ea"/><path d="M390.8 213.6L417.7 235.3L442.2 252.8L457.1 273.4L463.7 294.6L468.3 293.4L462.9 270.6L447.8 247.2L422.3 228.7L393.2 210.4Z" fill="#5a9fd1"/></g></defs>
<svg x="51.5" y="174.3" width="126.3" height="74.2" viewBox="5.8 9.6 485.7 284.2" preserveAspectRatio="none">
<use href="#terr"/>
<use href="#dit" opacity="0.45"/>
<use href="#f1"/>
<circle cx="127" cy="68" r="8" fill="#d9691c"/>
<circle cx="340" cy="135" r="8" fill="#21982a"/>
</svg>
<path d="M51.5 174.3H177.8V248.5" stroke="#777" stroke-width="0.9" fill="none"/>
<path d="M51.5 174.3V248.5H177.8" stroke="#111" stroke-width="0.9" fill="none"/>
<path d="M51.50 248.5v2.4M66.00 248.5v1.6M80.50 248.5v2.4M95.00 248.5v1.6M109.50 248.5v2.4M124.00 248.5v1.6M138.50 248.5v2.4M153.00 248.5v1.6M167.50 248.5v2.4M51.5 248.50h-2.4M51.5 233.70h-2.4M51.5 218.90h-2.4M51.5 204.10h-2.4M51.5 189.30h-2.4M51.5 174.50h-2.4" stroke="#111" stroke-width="0.7" fill="none"/>
<text x="46.8" y="250.5" font-size="5.8" fill="#1c1c1c" text-anchor="end" stroke="#1c1c1c" stroke-width="0.08" textLength="3.6" lengthAdjust="spacingAndGlyphs">0</text>
<text x="46.8" y="235.7" font-size="5.8" fill="#1c1c1c" text-anchor="end" stroke="#1c1c1c" stroke-width="0.08" textLength="7.1" lengthAdjust="spacingAndGlyphs">50</text>
<text x="46.8" y="220.9" font-size="5.8" fill="#1c1c1c" text-anchor="end" stroke="#1c1c1c" stroke-width="0.08" textLength="10.6" lengthAdjust="spacingAndGlyphs">100</text>
<text x="46.8" y="206.1" font-size="5.8" fill="#1c1c1c" text-anchor="end" stroke="#1c1c1c" stroke-width="0.08" textLength="10.6" lengthAdjust="spacingAndGlyphs">150</text>
<text x="46.8" y="191.3" font-size="5.8" fill="#1c1c1c" text-anchor="end" stroke="#1c1c1c" stroke-width="0.08" textLength="10.6" lengthAdjust="spacingAndGlyphs">200</text>
<text x="46.8" y="176.5" font-size="5.8" fill="#1c1c1c" text-anchor="end" stroke="#1c1c1c" stroke-width="0.08" textLength="10.6" lengthAdjust="spacingAndGlyphs">250</text>
<svg x="183.2" y="174.3" width="126.3" height="74.2" viewBox="5.8 9.6 485.7 284.2" preserveAspectRatio="none">
<use href="#terr"/>
<use href="#dit" opacity="0.45"/>
<use href="#f2"/>
<circle cx="127" cy="68" r="8" fill="#d9691c"/>
<circle cx="340" cy="135" r="8" fill="#21982a"/>
</svg>
<path d="M183.2 174.3H309.5V248.5" stroke="#777" stroke-width="0.9" fill="none"/>
<path d="M183.2 174.3V248.5H309.5" stroke="#111" stroke-width="0.9" fill="none"/>
<path d="M183.20 248.5v2.4M197.70 248.5v1.6M212.20 248.5v2.4M226.70 248.5v1.6M241.20 248.5v2.4M255.70 248.5v1.6M270.20 248.5v2.4M284.70 248.5v1.6M299.20 248.5v2.4M183.2 248.50h-1.8M183.2 233.70h-1.8M183.2 218.90h-1.8M183.2 204.10h-1.8M183.2 189.30h-1.8M183.2 174.50h-1.8" stroke="#111" stroke-width="0.7" fill="none"/>
<svg x="314.9" y="174.3" width="126.3" height="74.2" viewBox="5.8 9.6 485.7 284.2" preserveAspectRatio="none">
<use href="#terr"/>
<rect x="0" y="0" width="500" height="300" fill="#9a9c96" opacity="0.15"/>
<use href="#dit"/>
<use href="#f3"/>
<circle cx="127" cy="68" r="8" fill="#d9691c"/>
<circle cx="340" cy="135" r="8" fill="#21982a"/>
</svg>
<path d="M314.9 174.3H441.2V248.5" stroke="#777" stroke-width="0.9" fill="none"/>
<path d="M314.9 174.3V248.5H441.2" stroke="#111" stroke-width="0.9" fill="none"/>
<path d="M314.90 248.5v2.4M329.40 248.5v1.6M343.90 248.5v2.4M358.40 248.5v1.6M372.90 248.5v2.4M387.40 248.5v1.6M401.90 248.5v2.4M416.40 248.5v1.6M430.90 248.5v2.4M314.9 248.50h-1.8M314.9 233.70h-1.8M314.9 218.90h-1.8M314.9 204.10h-1.8M314.9 189.30h-1.8M314.9 174.50h-1.8" stroke="#111" stroke-width="0.7" fill="none"/>
<text x="33.4" y="211.4" font-size="5.9" fill="#1c1c1c" text-anchor="middle" stroke="#1c1c1c" stroke-width="0.08" textLength="56.6" lengthAdjust="spacingAndGlyphs" transform="rotate(-90 33.4 211.4)">UTM Distance (m)</text>
<text x="18.2" y="211.4" font-size="13" fill="#1c1c1c" text-anchor="middle" stroke="#1c1c1c" stroke-width="0.08" textLength="37.2" lengthAdjust="spacingAndGlyphs" transform="rotate(-90 18.2 211.4)">Site A</text>
<svg x="51.5" y="273.9" width="126.3" height="74.2" viewBox="5.8 9.6 485.7 284.2" preserveAspectRatio="none">
<use href="#terr"/>
<use href="#dit" opacity="0.45"/>
<use href="#f1"/>
<circle cx="127" cy="68" r="8" fill="#d9691c"/>
<circle cx="340" cy="135" r="8" fill="#21982a"/>
</svg>
<path d="M51.5 273.9H177.8V348.09999999999997" stroke="#777" stroke-width="0.9" fill="none"/>
<path d="M51.5 273.9V348.09999999999997H177.8" stroke="#111" stroke-width="0.9" fill="none"/>
<path d="M51.50 348.09999999999997v2.4M66.00 348.09999999999997v1.6M80.50 348.09999999999997v2.4M95.00 348.09999999999997v1.6M109.50 348.09999999999997v2.4M124.00 348.09999999999997v1.6M138.50 348.09999999999997v2.4M153.00 348.09999999999997v1.6M167.50 348.09999999999997v2.4M51.5 348.10h-2.4M51.5 333.30h-2.4M51.5 318.50h-2.4M51.5 303.70h-2.4M51.5 288.90h-2.4M51.5 274.10h-2.4" stroke="#111" stroke-width="0.7" fill="none"/>
<text x="46.8" y="350.1" font-size="5.8" fill="#1c1c1c" text-anchor="end" stroke="#1c1c1c" stroke-width="0.08" textLength="3.6" lengthAdjust="spacingAndGlyphs">0</text>
<text x="46.8" y="335.3" font-size="5.8" fill="#1c1c1c" text-anchor="end" stroke="#1c1c1c" stroke-width="0.08" textLength="7.1" lengthAdjust="spacingAndGlyphs">50</text>
<text x="46.8" y="320.5" font-size="5.8" fill="#1c1c1c" text-anchor="end" stroke="#1c1c1c" stroke-width="0.08" textLength="10.6" lengthAdjust="spacingAndGlyphs">100</text>
<text x="46.8" y="305.7" font-size="5.8" fill="#1c1c1c" text-anchor="end" stroke="#1c1c1c" stroke-width="0.08" textLength="10.6" lengthAdjust="spacingAndGlyphs">150</text>
<text x="46.8" y="290.9" font-size="5.8" fill="#1c1c1c" text-anchor="end" stroke="#1c1c1c" stroke-width="0.08" textLength="10.6" lengthAdjust="spacingAndGlyphs">200</text>
<text x="46.8" y="276.1" font-size="5.8" fill="#1c1c1c" text-anchor="end" stroke="#1c1c1c" stroke-width="0.08" textLength="10.6" lengthAdjust="spacingAndGlyphs">250</text>
<text x="51.5" y="357.4" font-size="5.8" fill="#1c1c1c" text-anchor="middle" stroke="#1c1c1c" stroke-width="0.08" textLength="3.6" lengthAdjust="spacingAndGlyphs">0</text>
<text x="80.5" y="357.4" font-size="5.8" fill="#1c1c1c" text-anchor="middle" stroke="#1c1c1c" stroke-width="0.08" textLength="10.6" lengthAdjust="spacingAndGlyphs">100</text>
<text x="109.5" y="357.4" font-size="5.8" fill="#1c1c1c" text-anchor="middle" stroke="#1c1c1c" stroke-width="0.08" textLength="10.6" lengthAdjust="spacingAndGlyphs">200</text>
<text x="138.5" y="357.4" font-size="5.8" fill="#1c1c1c" text-anchor="middle" stroke="#1c1c1c" stroke-width="0.08" textLength="10.6" lengthAdjust="spacingAndGlyphs">300</text>
<text x="167.5" y="357.4" font-size="5.8" fill="#1c1c1c" text-anchor="middle" stroke="#1c1c1c" stroke-width="0.08" textLength="10.6" lengthAdjust="spacingAndGlyphs">400</text>
<text x="114.25" y="364.5" font-size="5.9" fill="#1c1c1c" text-anchor="middle" stroke="#1c1c1c" stroke-width="0.08" textLength="56.6" lengthAdjust="spacingAndGlyphs">UTM Distance (m)</text>
<svg x="183.2" y="273.9" width="126.3" height="74.2" viewBox="5.8 9.6 485.7 284.2" preserveAspectRatio="none">
<use href="#terr"/>
<use href="#dit" opacity="0.45"/>
<use href="#f2"/>
<circle cx="127" cy="68" r="8" fill="#d9691c"/>
<circle cx="340" cy="135" r="8" fill="#21982a"/>
</svg>
<path d="M183.2 273.9H309.5V348.09999999999997" stroke="#777" stroke-width="0.9" fill="none"/>
<path d="M183.2 273.9V348.09999999999997H309.5" stroke="#111" stroke-width="0.9" fill="none"/>
<path d="M183.20 348.09999999999997v2.4M197.70 348.09999999999997v1.6M212.20 348.09999999999997v2.4M226.70 348.09999999999997v1.6M241.20 348.09999999999997v2.4M255.70 348.09999999999997v1.6M270.20 348.09999999999997v2.4M284.70 348.09999999999997v1.6M299.20 348.09999999999997v2.4M183.2 348.10h-1.8M183.2 333.30h-1.8M183.2 318.50h-1.8M183.2 303.70h-1.8M183.2 288.90h-1.8M183.2 274.10h-1.8" stroke="#111" stroke-width="0.7" fill="none"/>
<text x="183.2" y="357.4" font-size="5.8" fill="#1c1c1c" text-anchor="middle" stroke="#1c1c1c" stroke-width="0.08" textLength="3.6" lengthAdjust="spacingAndGlyphs">0</text>
<text x="212.2" y="357.4" font-size="5.8" fill="#1c1c1c" text-anchor="middle" stroke="#1c1c1c" stroke-width="0.08" textLength="10.6" lengthAdjust="spacingAndGlyphs">100</text>
<text x="241.2" y="357.4" font-size="5.8" fill="#1c1c1c" text-anchor="middle" stroke="#1c1c1c" stroke-width="0.08" textLength="10.6" lengthAdjust="spacingAndGlyphs">200</text>
<text x="270.2" y="357.4" font-size="5.8" fill="#1c1c1c" text-anchor="middle" stroke="#1c1c1c" stroke-width="0.08" textLength="10.6" lengthAdjust="spacingAndGlyphs">300</text>
<text x="299.2" y="357.4" font-size="5.8" fill="#1c1c1c" text-anchor="middle" stroke="#1c1c1c" stroke-width="0.08" textLength="10.6" lengthAdjust="spacingAndGlyphs">400</text>
<text x="245.95" y="364.5" font-size="5.9" fill="#1c1c1c" text-anchor="middle" stroke="#1c1c1c" stroke-width="0.08" textLength="56.6" lengthAdjust="spacingAndGlyphs">UTM Distance (m)</text>
<svg x="314.9" y="273.9" width="126.3" height="74.2" viewBox="5.8 9.6 485.7 284.2" preserveAspectRatio="none">
<use href="#terr"/>
<rect x="0" y="0" width="500" height="300" fill="#9a9c96" opacity="0.15"/>
<use href="#dit"/>
<use href="#f4"/>
<circle cx="127" cy="68" r="8" fill="#d9691c"/>
<circle cx="340" cy="135" r="8" fill="#21982a"/>
</svg>
<path d="M314.9 273.9H441.2V348.09999999999997" stroke="#777" stroke-width="0.9" fill="none"/>
<path d="M314.9 273.9V348.09999999999997H441.2" stroke="#111" stroke-width="0.9" fill="none"/>
<path d="M314.90 348.09999999999997v2.4M329.40 348.09999999999997v1.6M343.90 348.09999999999997v2.4M358.40 348.09999999999997v1.6M372.90 348.09999999999997v2.4M387.40 348.09999999999997v1.6M401.90 348.09999999999997v2.4M416.40 348.09999999999997v1.6M430.90 348.09999999999997v2.4M314.9 348.10h-1.8M314.9 333.30h-1.8M314.9 318.50h-1.8M314.9 303.70h-1.8M314.9 288.90h-1.8M314.9 274.10h-1.8" stroke="#111" stroke-width="0.7" fill="none"/>
<text x="314.9" y="357.4" font-size="5.8" fill="#1c1c1c" text-anchor="middle" stroke="#1c1c1c" stroke-width="0.08" textLength="3.6" lengthAdjust="spacingAndGlyphs">0</text>
<text x="343.9" y="357.4" font-size="5.8" fill="#1c1c1c" text-anchor="middle" stroke="#1c1c1c" stroke-width="0.08" textLength="10.6" lengthAdjust="spacingAndGlyphs">100</text>
<text x="372.9" y="357.4" font-size="5.8" fill="#1c1c1c" text-anchor="middle" stroke="#1c1c1c" stroke-width="0.08" textLength="10.6" lengthAdjust="spacingAndGlyphs">200</text>
<text x="401.9" y="357.4" font-size="5.8" fill="#1c1c1c" text-anchor="middle" stroke="#1c1c1c" stroke-width="0.08" textLength="10.6" lengthAdjust="spacingAndGlyphs">300</text>
<text x="430.9" y="357.4" font-size="5.8" fill="#1c1c1c" text-anchor="middle" stroke="#1c1c1c" stroke-width="0.08" textLength="10.6" lengthAdjust="spacingAndGlyphs">400</text>
<text x="377.65" y="364.5" font-size="5.9" fill="#1c1c1c" text-anchor="middle" stroke="#1c1c1c" stroke-width="0.08" textLength="56.6" lengthAdjust="spacingAndGlyphs">UTM Distance (m)</text>
<text x="33.4" y="311.0" font-size="5.9" fill="#1c1c1c" text-anchor="middle" stroke="#1c1c1c" stroke-width="0.08" textLength="56.6" lengthAdjust="spacingAndGlyphs" transform="rotate(-90 33.4 311.0)">UTM Distance (m)</text>
<text x="18.2" y="311.0" font-size="13" fill="#1c1c1c" text-anchor="middle" stroke="#1c1c1c" stroke-width="0.08" textLength="37.2" lengthAdjust="spacingAndGlyphs" transform="rotate(-90 18.2 311.0)">Site B</text>
<text x="51.2" y="170.0" font-size="8.6" fill="#228B22" font-weight="bold" stroke="#228B22" stroke-width="0.25" textLength="11" lengthAdjust="spacingAndGlyphs">A1</text>
<text x="70.0" y="170.0" font-size="8.6" fill="#228B22" font-weight="bold" stroke="#228B22" stroke-width="0.25" textLength="26.3" lengthAdjust="spacingAndGlyphs">08:45</text>
<text x="100.3" y="170.0" font-size="8.6" fill="#228B22" font-weight="bold" stroke="#228B22" stroke-width="0.25" textLength="19.5" lengthAdjust="spacingAndGlyphs">WSE</text>
<text x="120.0" y="171.8" font-size="6" fill="#228B22" font-weight="bold" stroke="#228B22" stroke-width="0.25" textLength="7.9" lengthAdjust="spacingAndGlyphs">90</text>
<text x="128.6" y="170.0" font-size="8.6" fill="#228B22" font-weight="bold" stroke="#228B22" stroke-width="0.25">:</text>
<text x="136.0" y="170.0" font-size="8.6" fill="#228B22" font-weight="bold" stroke="#228B22" stroke-width="0.25" textLength="30" lengthAdjust="spacingAndGlyphs">126.13</text>
<text x="170.8" y="170.0" font-size="8.6" fill="#228B22" font-weight="bold" stroke="#228B22" stroke-width="0.25" textLength="7.7" lengthAdjust="spacingAndGlyphs">m</text>
<text x="182.89999999999998" y="170.0" font-size="8.6" fill="#228B22" font-weight="bold" stroke="#228B22" stroke-width="0.25" textLength="11" lengthAdjust="spacingAndGlyphs">A2</text>
<text x="201.7" y="170.0" font-size="8.6" fill="#228B22" font-weight="bold" stroke="#228B22" stroke-width="0.25" textLength="26.3" lengthAdjust="spacingAndGlyphs">12:15</text>
<text x="232.0" y="170.0" font-size="8.6" fill="#228B22" font-weight="bold" stroke="#228B22" stroke-width="0.25" textLength="19.5" lengthAdjust="spacingAndGlyphs">WSE</text>
<text x="251.7" y="171.8" font-size="6" fill="#228B22" font-weight="bold" stroke="#228B22" stroke-width="0.25" textLength="7.9" lengthAdjust="spacingAndGlyphs">90</text>
<text x="260.29999999999995" y="170.0" font-size="8.6" fill="#228B22" font-weight="bold" stroke="#228B22" stroke-width="0.25">:</text>
<text x="267.7" y="170.0" font-size="8.6" fill="#228B22" font-weight="bold" stroke="#228B22" stroke-width="0.25" textLength="30" lengthAdjust="spacingAndGlyphs">126.30</text>
<text x="302.5" y="170.0" font-size="8.6" fill="#228B22" font-weight="bold" stroke="#228B22" stroke-width="0.25" textLength="7.7" lengthAdjust="spacingAndGlyphs">m</text>
<text x="314.59999999999997" y="170.0" font-size="8.6" fill="#228B22" font-weight="bold" stroke="#228B22" stroke-width="0.25" textLength="11" lengthAdjust="spacingAndGlyphs">A3</text>
<text x="333.4" y="170.0" font-size="8.6" fill="#228B22" font-weight="bold" stroke="#228B22" stroke-width="0.25" textLength="26.3" lengthAdjust="spacingAndGlyphs">17:45</text>
<text x="363.7" y="170.0" font-size="8.6" fill="#228B22" font-weight="bold" stroke="#228B22" stroke-width="0.25" textLength="19.5" lengthAdjust="spacingAndGlyphs">WSE</text>
<text x="383.4" y="171.8" font-size="6" fill="#228B22" font-weight="bold" stroke="#228B22" stroke-width="0.25" textLength="7.9" lengthAdjust="spacingAndGlyphs">90</text>
<text x="392.0" y="170.0" font-size="8.6" fill="#228B22" font-weight="bold" stroke="#228B22" stroke-width="0.25">:</text>
<text x="399.4" y="170.0" font-size="8.6" fill="#228B22" font-weight="bold" stroke="#228B22" stroke-width="0.25" textLength="30" lengthAdjust="spacingAndGlyphs">125.94</text>
<text x="434.2" y="170.0" font-size="8.6" fill="#228B22" font-weight="bold" stroke="#228B22" stroke-width="0.25" textLength="7.7" lengthAdjust="spacingAndGlyphs">m</text>
<text x="51.2" y="269.4" font-size="8.6" fill="#D2691E" font-weight="bold" stroke="#D2691E" stroke-width="0.25" textLength="11" lengthAdjust="spacingAndGlyphs">B1</text>
<text x="70.0" y="269.4" font-size="8.6" fill="#D2691E" font-weight="bold" stroke="#D2691E" stroke-width="0.25" textLength="26.3" lengthAdjust="spacingAndGlyphs">08:54</text>
<text x="100.3" y="269.4" font-size="8.6" fill="#D2691E" font-weight="bold" stroke="#D2691E" stroke-width="0.25" textLength="19.5" lengthAdjust="spacingAndGlyphs">WSE</text>
<text x="120.0" y="271.2" font-size="6" fill="#D2691E" font-weight="bold" stroke="#D2691E" stroke-width="0.25" textLength="7.9" lengthAdjust="spacingAndGlyphs">90</text>
<text x="128.6" y="269.4" font-size="8.6" fill="#D2691E" font-weight="bold" stroke="#D2691E" stroke-width="0.25">:</text>
<text x="136.0" y="269.4" font-size="8.6" fill="#D2691E" font-weight="bold" stroke="#D2691E" stroke-width="0.25" textLength="30" lengthAdjust="spacingAndGlyphs">126.16</text>
<text x="170.8" y="269.4" font-size="8.6" fill="#D2691E" font-weight="bold" stroke="#D2691E" stroke-width="0.25" textLength="7.7" lengthAdjust="spacingAndGlyphs">m</text>
<text x="182.89999999999998" y="269.4" font-size="8.6" fill="#D2691E" font-weight="bold" stroke="#D2691E" stroke-width="0.25" textLength="11" lengthAdjust="spacingAndGlyphs">B2</text>
<text x="201.7" y="269.4" font-size="8.6" fill="#D2691E" font-weight="bold" stroke="#D2691E" stroke-width="0.25" textLength="26.3" lengthAdjust="spacingAndGlyphs">12:24</text>
<text x="232.0" y="269.4" font-size="8.6" fill="#D2691E" font-weight="bold" stroke="#D2691E" stroke-width="0.25" textLength="19.5" lengthAdjust="spacingAndGlyphs">WSE</text>
<text x="251.7" y="271.2" font-size="6" fill="#D2691E" font-weight="bold" stroke="#D2691E" stroke-width="0.25" textLength="7.9" lengthAdjust="spacingAndGlyphs">90</text>
<text x="260.29999999999995" y="269.4" font-size="8.6" fill="#D2691E" font-weight="bold" stroke="#D2691E" stroke-width="0.25">:</text>
<text x="267.7" y="269.4" font-size="8.6" fill="#D2691E" font-weight="bold" stroke="#D2691E" stroke-width="0.25" textLength="30" lengthAdjust="spacingAndGlyphs">126.28</text>
<text x="302.5" y="269.4" font-size="8.6" fill="#D2691E" font-weight="bold" stroke="#D2691E" stroke-width="0.25" textLength="7.7" lengthAdjust="spacingAndGlyphs">m</text>
<text x="314.59999999999997" y="269.4" font-size="8.6" fill="#D2691E" font-weight="bold" stroke="#D2691E" stroke-width="0.25" textLength="11" lengthAdjust="spacingAndGlyphs">B3</text>
<text x="333.4" y="269.4" font-size="8.6" fill="#D2691E" font-weight="bold" stroke="#D2691E" stroke-width="0.25" textLength="26.3" lengthAdjust="spacingAndGlyphs">17:54</text>
<text x="363.7" y="269.4" font-size="8.6" fill="#D2691E" font-weight="bold" stroke="#D2691E" stroke-width="0.25" textLength="19.5" lengthAdjust="spacingAndGlyphs">WSE</text>
<text x="383.4" y="271.2" font-size="6" fill="#D2691E" font-weight="bold" stroke="#D2691E" stroke-width="0.25" textLength="7.9" lengthAdjust="spacingAndGlyphs">90</text>
<text x="392.0" y="269.4" font-size="8.6" fill="#D2691E" font-weight="bold" stroke="#D2691E" stroke-width="0.25">:</text>
<text x="399.4" y="269.4" font-size="8.6" fill="#D2691E" font-weight="bold" stroke="#D2691E" stroke-width="0.25" textLength="30" lengthAdjust="spacingAndGlyphs">126.03</text>
<text x="434.2" y="269.4" font-size="8.6" fill="#D2691E" font-weight="bold" stroke="#D2691E" stroke-width="0.25" textLength="7.7" lengthAdjust="spacingAndGlyphs">m</text>
<rect x="446" y="180.6" width="15.4" height="164.4" fill="url(#cb)" stroke="#777" stroke-width="0.9"/>
<text x="466.4" y="348.1" font-size="8.8" fill="#1c1c1c" stroke="#1c1c1c" stroke-width="0.08" textLength="13" lengthAdjust="spacingAndGlyphs">0.0</text>
<text x="466.4" y="327.55" font-size="8.8" fill="#1c1c1c" stroke="#1c1c1c" stroke-width="0.08" textLength="13" lengthAdjust="spacingAndGlyphs">0.1</text>
<text x="466.4" y="307.0" font-size="8.8" fill="#1c1c1c" stroke="#1c1c1c" stroke-width="0.08" textLength="13" lengthAdjust="spacingAndGlyphs">0.2</text>
<text x="466.4" y="286.45" font-size="8.8" fill="#1c1c1c" stroke="#1c1c1c" stroke-width="0.08" textLength="13" lengthAdjust="spacingAndGlyphs">0.3</text>
<text x="466.4" y="265.9" font-size="8.8" fill="#1c1c1c" stroke="#1c1c1c" stroke-width="0.08" textLength="13" lengthAdjust="spacingAndGlyphs">0.4</text>
<text x="466.4" y="245.35" font-size="8.8" fill="#1c1c1c" stroke="#1c1c1c" stroke-width="0.08" textLength="13" lengthAdjust="spacingAndGlyphs">0.5</text>
<text x="466.4" y="224.8" font-size="8.8" fill="#1c1c1c" stroke="#1c1c1c" stroke-width="0.08" textLength="13" lengthAdjust="spacingAndGlyphs">0.6</text>
<text x="466.4" y="204.25" font-size="8.8" fill="#1c1c1c" stroke="#1c1c1c" stroke-width="0.08" textLength="13" lengthAdjust="spacingAndGlyphs">0.7</text>
<text x="466.4" y="183.7" font-size="8.8" fill="#1c1c1c" stroke="#1c1c1c" stroke-width="0.08" textLength="13" lengthAdjust="spacingAndGlyphs">0.8</text>
<path d="M461.4 345.00h3.2M461.4 324.45h3.2M461.4 303.90h3.2M461.4 283.35h3.2M461.4 262.80h3.2M461.4 242.25h3.2M461.4 221.70h3.2M461.4 201.15h3.2M461.4 180.60h3.2" stroke="#111" stroke-width="0.8" fill="none"/>
<text x="491.6" y="262.6" font-size="11.6" fill="#1c1c1c" text-anchor="middle" stroke="#1c1c1c" stroke-width="0.08" textLength="59" lengthAdjust="spacingAndGlyphs" transform="rotate(-90 491.6 262.6)">Depth (m)</text>
</g>
</svg>
</body></html>
